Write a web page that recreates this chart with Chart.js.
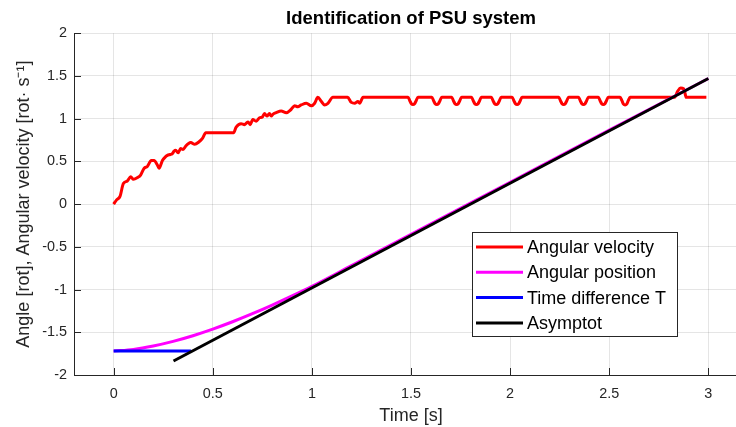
<!DOCTYPE html>
<html>
<head>
<meta charset="utf-8">
<script src="https://cdn.jsdelivr.net/npm/chart.js@4.4.0/dist/chart.umd.min.js"></script>
<style>
  html, body { margin: 0; padding: 0; overflow: hidden; background: #fff; }
  #wrap { width: 736px; height: 427px; overflow: hidden; }
  canvas { display: block; }
</style>
</head>
<body>
<div id="wrap"><canvas id="chart" width="750" height="427" style="width:750px;height:427px"></canvas></div>
<script>
// data
const xTicks = [0, 0.5, 1, 1.5, 2, 2.5, 3];
const yTicks = [-2, -1.5, -1, -0.5, 0, 0.5, 1, 1.5, 2];

// angular velocity (red)
const velT = [
  0, 0.015, 0.032, 0.049, 0.069, 0.086, 0.10, 0.12, 0.136, 0.154, 0.17, 0.19, 0.204, 0.22, 0.229, 0.246,
  0.26, 0.271, 0.285, 0.296, 0.305, 0.313, 0.325, 0.338, 0.35, 0.364, 0.378, 0.389, 0.409, 0.431, 0.448, 0.465,
  0.605, 0.618, 0.643, 0.66, 0.67, 0.678, 0.689, 0.702, 0.719, 0.736, 0.75, 0.761, 0.773, 0.786, 0.795, 0.803,
  0.82, 0.845, 0.871, 0.896, 0.913, 0.929, 0.946, 0.972, 0.997, 1.014, 1.03, 1.048, 1.064, 1.081, 1.106,
  1.18, 1.199, 1.216, 1.232, 1.241, 1.258,
  1.485, 1.494, 1.502, 1.51, 1.518, 1.526, 1.535,
  1.605, 1.614, 1.622, 1.63, 1.638, 1.646, 1.655,
  1.705, 1.714, 1.722, 1.73, 1.738, 1.746, 1.755,
  1.805, 1.814, 1.822, 1.83, 1.838, 1.846, 1.855,
  1.905, 1.914, 1.922, 1.93, 1.938, 1.946, 1.955,
  2.01, 2.019, 2.027, 2.035, 2.043, 2.051, 2.06,
  2.245, 2.254, 2.262, 2.27, 2.278, 2.286, 2.295,
  2.345, 2.354, 2.362, 2.37, 2.378, 2.386, 2.395,
  2.445, 2.454, 2.462, 2.47, 2.478, 2.486, 2.495,
  2.555, 2.564, 2.572, 2.58, 2.588, 2.596, 2.605,
  2.83, 2.845, 2.86, 2.875, 2.882, 2.888, 2.99
];
const velV = [
  0, 0.05, 0.09, 0.24, 0.27, 0.32, 0.29, 0.31, 0.34, 0.42, 0.44, 0.51, 0.51, 0.46, 0.42, 0.51,
  0.55, 0.57, 0.58, 0.59, 0.62, 0.63, 0.60, 0.65, 0.64, 0.68, 0.71, 0.72, 0.70, 0.73, 0.77, 0.835,
  0.835, 0.90, 0.94, 0.93, 0.95, 0.96, 0.93, 0.99, 0.97, 1.01, 1.02, 1.06, 1.03, 1.06, 1.03, 1.05,
  1.07, 1.09, 1.07, 1.11, 1.15, 1.14, 1.16, 1.18, 1.15, 1.18, 1.25, 1.20, 1.16, 1.18, 1.25,
  1.25, 1.19, 1.18, 1.20, 1.18, 1.25,
  1.25, 1.21, 1.175, 1.165, 1.175, 1.21, 1.25,
  1.25, 1.21, 1.175, 1.165, 1.175, 1.21, 1.25,
  1.25, 1.21, 1.175, 1.165, 1.175, 1.21, 1.25,
  1.25, 1.21, 1.175, 1.165, 1.175, 1.21, 1.25,
  1.25, 1.21, 1.175, 1.165, 1.175, 1.21, 1.25,
  1.25, 1.21, 1.175, 1.165, 1.175, 1.21, 1.25,
  1.25, 1.21, 1.175, 1.165, 1.175, 1.21, 1.25,
  1.25, 1.21, 1.175, 1.165, 1.175, 1.21, 1.25,
  1.25, 1.21, 1.175, 1.165, 1.175, 1.21, 1.25,
  1.25, 1.21, 1.17, 1.16, 1.17, 1.21, 1.25,
  1.25, 1.32, 1.36, 1.35, 1.30, 1.25, 1.25
];

// angular position (magenta)
const posT = [0, 0.1, 0.2, 0.3, 0.4, 0.5, 0.6, 0.7, 0.8, 0.9, 1.0, 1.2, 1.5, 2.0, 2.5, 3.0];
const posV = [-1.72, -1.70, -1.66, -1.606, -1.54, -1.463, -1.377, -1.283, -1.182, -1.075, -0.963, -0.72, -0.355, 0.255, 0.865, 1.47];

// time difference T (blue)
const diffT = [0, 0.39];
const diffV = [-1.72, -1.72];

// asymptote (black)
const asymT = [0.302, 3.0];
const asymV = [-1.836, 1.47];

const FONT = "'Liberation Sans', Arial, Helvetica, sans-serif";
const AX = '#262626';
const toXY = (ts, vs) => ts.map((t, i) => ({ x: t, y: vs[i] }));

// matlab style ticks pointing into the axes
const inwardTicks = {
  id: 'inwardTicks',
  afterDraw(chart) {
    const { ctx, chartArea: a, scales } = chart;
    ctx.save();
    ctx.strokeStyle = AX;
    ctx.lineWidth = 1;
    ctx.beginPath();
    xTicks.forEach(v => {
      const px = Math.round(scales.x.getPixelForValue(v)) + 0.5;
      ctx.moveTo(px, a.bottom);
      ctx.lineTo(px, a.bottom - 7);
    });
    yTicks.forEach(v => {
      const py = Math.round(scales.y.getPixelForValue(v)) + 0.5;
      ctx.moveTo(a.left, py);
      ctx.lineTo(a.left + 7, py);
    });
    ctx.stroke();
    ctx.restore();
  }
};

// legend box inside the plot
const boxLegend = {
  id: 'boxLegend',
  afterDraw(chart) {
    const ctx = chart.ctx;
    const x0 = 472, y0 = 232, w = 205, h = 104;
    ctx.save();
    ctx.fillStyle = '#fff';
    ctx.fillRect(x0, y0, w, h);
    ctx.strokeStyle = AX;
    ctx.lineWidth = 1;
    ctx.strokeRect(x0 + 0.5, y0 + 0.5, w, h);
    ctx.font = '18px ' + FONT;
    ctx.textBaseline = 'middle';
    chart.data.datasets.forEach((ds, i) => {
      const y = y0 + 15 + i * 25.3;
      ctx.strokeStyle = ds.borderColor;
      ctx.lineWidth = 3;
      ctx.beginPath();
      ctx.moveTo(x0 + 4, y);
      ctx.lineTo(x0 + 51, y);
      ctx.stroke();
      ctx.fillStyle = '#000';
      ctx.fillText(ds.label, x0 + 55, y + 1);
    });
    ctx.restore();
  }
};

new Chart(document.getElementById('chart'), {
  type: 'line',
  data: {
    datasets: [
      { label: 'Angular velocity', data: toXY(velT, velV), borderColor: '#ff0000', borderWidth: 3,
        pointRadius: 0, cubicInterpolationMode: 'monotone', order: 4 },
      { label: 'Angular position', data: toXY(posT, posV), borderColor: '#ff00ff', borderWidth: 3,
        pointRadius: 0, cubicInterpolationMode: 'monotone', order: 3 },
      { label: 'Time difference T', data: toXY(diffT, diffV), borderColor: '#0000ff', borderWidth: 3,
        pointRadius: 0, order: 2 },
      { label: 'Asymptot', data: toXY(asymT, asymV), borderColor: '#000000', borderWidth: 3,
        pointRadius: 0, order: 1 }
    ]
  },
  options: {
    responsive: false,
    animation: false,
    events: [],
    layout: { padding: { left: 0, right: 2, top: 0, bottom: 0 } },
    plugins: {
      legend: { display: false },
      tooltip: { enabled: false },
      title: {
        display: true,
        text: 'Identification of PSU system',
        fullSize: false,
        color: '#000',
        font: { family: FONT, size: 18.5, weight: 'bold' },
        padding: { top: 8, bottom: 3 }
      }
    },
    scales: {
      x: {
        type: 'linear',
        min: -0.2,
        max: 3.2,
        afterBuildTicks: s => { s.ticks = xTicks.map(v => ({ value: v })); },
        afterFit: s => { s.height = 52; },
        grid: { color: 'rgba(38,38,38,0.12)', drawTicks: false },
        border: { color: AX, width: 1 },
        ticks: { padding: 10, color: AX, maxRotation: 0, autoSkip: false,
          font: { family: FONT, size: 14.4 }, callback: v => String(v) },
        title: { display: true, text: 'Time [s]', color: AX,
          font: { family: FONT, size: 18 }, padding: { top: 0, bottom: 0 } }
      },
      y: {
        type: 'linear',
        min: -2,
        max: 2,
        afterBuildTicks: s => { s.ticks = yTicks.map(v => ({ value: v })); },
        afterFit: s => { s.width = 74; },
        grid: { color: 'rgba(38,38,38,0.12)', drawTicks: false },
        border: { color: AX, width: 1 },
        ticks: { padding: 7, color: AX, autoSkip: false,
          font: { family: FONT, size: 14.4 }, callback: v => String(v) },
        title: { display: true, text: 'Angle [rot], Angular velocity [rot\u00b7 s\u207b\u00b9]', color: AX,
          font: { family: FONT, size: 18 }, padding: { top: 13, bottom: 0 } }
      }
    }
  },
  plugins: [inwardTicks, boxLegend]
});
</script>
</body>
</html>
